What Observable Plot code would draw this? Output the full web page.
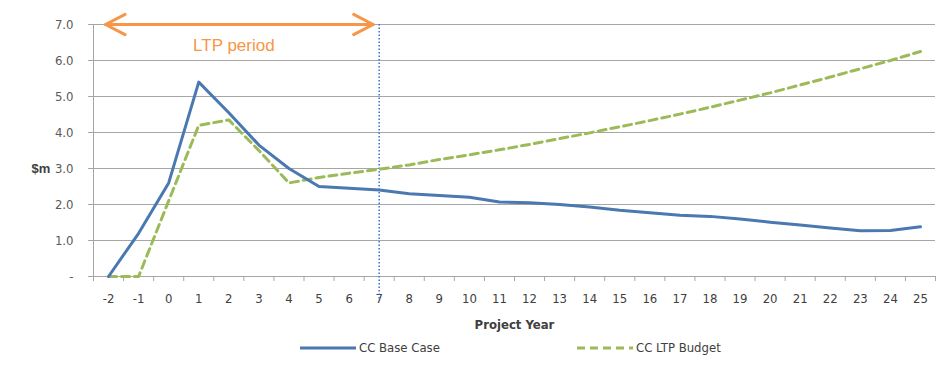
<!DOCTYPE html>
<html>
<head>
<meta charset="utf-8">
<script src="https://cdn.jsdelivr.net/npm/d3@7"></script>
<script src="https://cdn.jsdelivr.net/npm/@observablehq/plot@0.6"></script>
<style>
  html, body { margin: 0; padding: 0; background: #fff; }
  #chart svg { display: block; }
  .legend {
    position: relative; height: 33px; width: 946px;
    font-family: "Liberation Sans Narrow", "DejaVu Sans Condensed", "Liberation Sans", sans-serif;
    font-size: 13px; color: #404040;
  }
  .legend .item { position: absolute; top: 6px; display: flex; align-items: center; gap: 3px; }
  .legend svg { display: block; }
</style>
</head>
<body>
<div id="chart"></div>
<div class="legend" id="legend"></div>
<script>
// Project years on the category axis
const years = [-2, -1, 0, 1, 2, 3, 4, 5, 6, 7, 8, 9, 10, 11, 12, 13, 14, 15, 16, 17, 18, 19, 20, 21, 22, 23, 24, 25];

// Annual cost, $m
const baseCase = [0, 1.2, 2.6, 5.4, 4.55, 3.65, 3.0, 2.5, 2.45, 2.4, 2.3, 2.25, 2.2, 2.07, 2.05, 2.0, 1.93, 1.84, 1.77, 1.7, 1.67, 1.6, 1.51, 1.43, 1.35, 1.27, 1.28, 1.38];
const ltpBudget = [0, 0, 2.1, 4.2, 4.35, 3.5, 2.6, 2.75, 2.87, 2.98, 3.1, 3.25, 3.38, 3.52, 3.67, 3.83, 3.99, 4.16, 4.33, 4.51, 4.7, 4.9, 5.1, 5.32, 5.54, 5.77, 6.0, 6.25];

const seriesNames = ["CC Base Case", "CC LTP Budget"];
const yTicks = [0, 1, 2, 3, 4, 5, 6, 7];

// LTP period spans from the first project year to year 7
const ltpStart = -2;
const ltpEnd = 7;
const ltpLabel = "LTP period";

const blue = "#4a78b0";
const green = "#9bbb59";
const orange = "#f79646";
const grid = "#a6a6a6";
const narrow = "'Liberation Sans Narrow', 'DejaVu Sans Condensed', 'Liberation Sans', sans-serif";

const baseRows = years.map((x, i) => ({x, y: baseCase[i]}));
const budgetRows = years.map((x, i) => ({x, y: ltpBudget[i]}));
const boundaries = years.map(y => y + 0.5);
boundaries.unshift(years[0] - 0.5);

const chart = Plot.plot({
  width: 946,
  height: 334,
  marginLeft: 93,
  marginRight: 11,
  marginTop: 24,
  marginBottom: 58,
  style: {fontFamily: narrow, fontSize: "13px", color: "#595959", background: "#fff"},
  x: {domain: [years[0] - 0.5, years[years.length - 1] + 0.5]},
  y: {domain: [0, 7]},
  marks: [
    // horizontal gridlines
    Plot.ruleY(yTicks, {stroke: grid, strokeWidth: 1}),
    // vertical value axis line
    Plot.ruleX([years[0] - 0.5], {stroke: grid, strokeWidth: 1}),
    Plot.axisY({
      ticks: yTicks,
      tickFormat: d => d === 0 ? "-" : d.toFixed(1),
      tickSize: 5,
      tickPadding: 15,
      stroke: grid,
      fill: "#595959",
      label: null
    }),
    // category tick marks between years
    Plot.axisX({ticks: boundaries, tickFormat: () => "", tickSize: 5, stroke: grid, label: null}),
    Plot.axisX({ticks: years, tickFormat: d => String(d), tickSize: 0, tickPadding: 17, fill: "#404040", label: null}),
    Plot.text(["Project Year"], {frameAnchor: "bottom", dy: 52, fontWeight: "bold", fill: "#404040", fontSize: 13}),
    Plot.text(["$m"], {frameAnchor: "left", y: 3, dx: -62, textAnchor: "start", fontWeight: "bold", fill: "#404040", fontSize: 13, fontFamily: "'Liberation Sans', sans-serif"}),
    // end of the LTP period
    Plot.ruleX([ltpEnd], {y1: 7, y2: 0, stroke: "#3a6fd0", strokeWidth: 1.5, strokeDasharray: "1.5,2", insetBottom: -24}),
    // series
    Plot.line(budgetRows, {x: "x", y: "y", stroke: green, strokeWidth: 3, strokeDasharray: "8,5"}),
    Plot.line(baseRows, {x: "x", y: "y", stroke: blue, strokeWidth: 3}),
    // double-headed arrow marking the LTP period
    Plot.arrow([{a: ltpStart, b: ltpEnd}], {x1: "a", x2: "b", y1: 7, y2: 7, stroke: orange, strokeWidth: 3, headLength: 11, headAngle: 55, insetStart: -3, insetEnd: 6}),
    Plot.arrow([{a: ltpEnd, b: ltpStart}], {x1: "a", x2: "b", y1: 7, y2: 7, stroke: orange, strokeWidth: 3, headLength: 11, headAngle: 55, insetStart: 6, insetEnd: -3}),
    Plot.text([ltpLabel], {x: (ltpStart + ltpEnd) / 2, y: 7, dx: -10, dy: 21, fill: orange, fontSize: 17, fontFamily: "'Liberation Sans', sans-serif"})
  ]
});
document.getElementById("chart").appendChild(chart);

// legend below the chart
const legend = d3.select("#legend");
const items = [
  {name: seriesNames[0], color: blue, dash: null, left: 300},
  {name: seriesNames[1], color: green, dash: "8,5", left: 577}
];
for (const it of items) {
  const g = legend.append("div").attr("class", "item").style("left", it.left + "px");
  const s = g.append("svg").attr("width", 56).attr("height", 10);
  s.append("line").attr("x1", 0).attr("x2", 56).attr("y1", 5).attr("y2", 5)
    .attr("stroke", it.color).attr("stroke-width", 3).attr("stroke-dasharray", it.dash);
  g.append("span").text(it.name);
}
</script>
</body>
</html>
